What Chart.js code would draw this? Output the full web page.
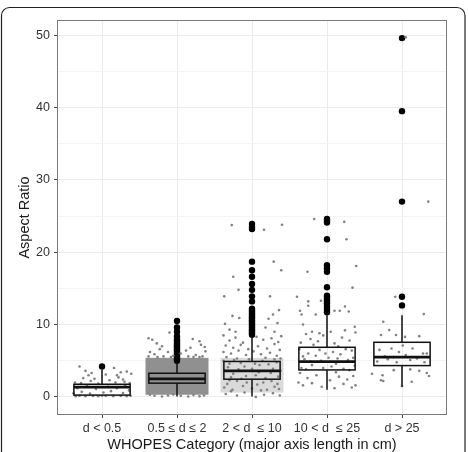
<!DOCTYPE html>
<html>
<head>
<meta charset="utf-8">
<script src="https://cdn.jsdelivr.net/npm/chart.js@4"></script>
<style>
  body { margin: 0; background: #fff; }
</style>
</head>
<body>
<canvas id="aspect-ratio-graphic" width="469" height="452"></canvas>
<script>
var categories = ['d < 0.5', '0.5 \u2264 d \u2264 2', '2 < d  \u2264 10', '10 < d  \u2264 25', 'd > 25'];

// box statistics per category
var whiskerLow = [0.05, 0.05, 0.05, 1.0, 1.4];
var q1 = [0.25, 1.9, 2.45, 3.73, 4.33];
var median = [1.35, 2.5, 3.6, 4.88, 5.5];
var q3 = [1.75, 3.27, 4.9, 6.86, 7.55];
var whiskerHigh = [3.75, 4.9, 8.5, 11.3, 11.3];

// outliers (black dots)
var outliers = [
    [4.2],
    [5.0, 5.2, 5.4, 5.6, 5.8, 6.0, 6.2, 6.4, 6.6, 6.8, 7.0, 7.2, 7.4, 7.6, 7.8, 8.0, 8.4, 9.0, 9.6, 10.5],
    [8.6, 8.8, 9.0, 9.2, 9.4, 9.6, 9.8, 10.0, 10.2, 10.4, 10.6, 10.8, 11.0, 11.2, 11.4, 11.6, 11.8, 12.0, 12.2,
     13.2, 13.9, 14.8, 15.6, 16.6, 17.5, 18.7, 23.2, 23.5, 23.9],
    [11.7, 12.0, 12.3, 12.6, 12.9, 13.2, 13.5, 13.8, 14.0, 15.15, 17.3, 17.8, 18.2, 21.8, 24.1, 24.4, 24.6],
    [12.65, 13.85, 27.0, 39.5, 49.6]
];

// dense part of the jittered cloud, [low, high]
var cloudLow = [null, 0.3, 0.6, null, null];
var cloudHigh = [null, 5.4, 5.4, null, null];

// jittered raw points: [offset from category, value]
var jitter1 = [[-0.35,0.1],[-0.3,0.15],[-0.22,0.1],[-0.12,0.12],[-0.05,0.1],[0.05,0.15],[0.15,0.1],[0.25,0.12],[0.33,0.1],[0.38,0.15],
    [-0.38,0.5],[-0.27,0.7],[-0.16,0.45],[0.02,0.6],[0.12,0.8],[0.28,0.55],[0.36,0.9],
    [-0.33,1.2],[-0.2,1.5],[-0.08,1.1],[0.08,1.4],[0.2,1.2],[0.31,1.6],
    [-0.36,2.0],[-0.28,1.9],[-0.15,2.2],[-0.05,1.85],[0.1,2.3],[0.18,2.0],[0.3,2.1],[0.37,1.9],
    [-0.25,2.6],[-0.1,2.5],[0.22,2.7],[0.28,2.4],
    [-0.3,4.2],[-0.22,3.6],[-0.14,3.3],[-0.18,3.0],[0.16,4.0],[0.25,3.4],[0.33,3.5],[0.39,3.2],[0.2,3.0],[0.05,3.1]];
var jitter2 = [[-0.38,8.1],[-0.33,7.9],[-0.27,7.4],[-0.2,7.0],[-0.23,6.6],[-0.1,8.9],[0.21,8.0],[0.3,7.7],[0.32,7.2],[0.37,6.9],
    [0.18,6.8],[0.12,6.4],[0.38,6.3],[-0.36,6.2],[-0.3,5.9],[-0.12,6.2],[0.05,6.0],[0.25,5.8],[-0.05,5.7],[-0.18,5.6],
    [0.3,5.5],[-0.38,5.6],[0.15,5.6],[-0.26,5.5],[0.22,5.5],[0.34,5.6],[-0.08,5.5],
    [-0.3,0.15],[-0.2,0.05],[-0.12,0.2],[0.05,0.15],[0.15,0.05],[0.22,0.25],[0.3,0.1],[0.36,0.2],[-0.36,0.3],[-0.05,0.35]];
var jitter3 = [[-0.27,23.75],[0.16,23.1],[0.4,23.8],[0.29,18.7],[0.39,17.5],[-0.25,16.6],[-0.18,14.8],[-0.37,13.9],[0.24,13.9],
    [-0.26,11.2],[-0.17,10.9],[0.22,10.8],[0.28,11.4],[0.34,10.2],[0.18,9.6],[-0.3,9.3],[-0.36,10.1],[-0.22,9.0],[0.36,12.0],[0.3,9.0],
    [-0.38,8.5],[-0.3,7.8],[-0.22,8.2],[-0.12,7.5],[0.06,8.3],[0.15,7.9],[0.26,8.1],[0.35,7.6],[0.39,8.4],
    [-0.35,7.1],[-0.25,6.8],[-0.15,7.2],[-0.05,6.6],[0.08,7.0],[0.2,6.7],[0.3,7.3],[0.37,6.5],
    [-0.38,6.2],[-0.28,6.0],[-0.18,6.4],[-0.08,5.8],[0.02,6.3],[0.12,5.9],[0.24,6.1],[0.33,5.7],
    [-0.34,5.5],[-0.2,5.3],[0.18,5.4],[0.3,5.2],[-0.3,4.6],[-0.1,4.2],[0.1,4.4],[0.28,3.9],[-0.25,3.2],[0.05,3.0],[0.35,2.8],
    [-0.33,1.8],[-0.12,1.5],[0.15,2.0],[0.3,1.4],[-0.2,2.2],[0.0,1.2],
    [-0.38,5.0],[-0.32,4.1],[-0.24,5.1],[-0.15,4.7],[-0.04,5.2],[0.04,4.6],[0.14,5.0],[0.22,4.5],[0.33,4.8],[0.38,5.3],
    [-0.36,3.6],[-0.28,2.7],[-0.18,3.8],[-0.08,2.9],[0.0,3.9],[0.09,3.4],[0.18,2.6],[0.25,3.3],[0.38,3.6],[-0.14,2.5],
    [-0.37,1.3],[-0.26,1.0],[-0.07,2.0],[0.07,1.7],[0.2,1.0],[0.26,2.2],[0.36,1.1],[-0.3,2.3],[0.12,0.9],[0.34,1.8],
    [-0.35,0.4],[-0.2,0.2],[-0.1,0.6],[0.05,0.0],[0.16,0.3],[0.28,0.5],[0.37,0.2],[-0.28,0.8]];
var jitter4 = [[-0.17,24.6],[0.23,24.2],[0.26,21.8],[0.39,18.1],[-0.26,17.3],[0.34,15.1],[-0.4,13.85],[-0.25,13.2],[-0.25,12.6],
    [-0.08,13.3],[0.24,12.5],[0.1,11.9],[0.17,11.9],[0.29,11.8],[-0.36,11.9],[-0.34,11.4],[-0.15,11.4],[-0.32,10.0],[0.37,9.7],
    [0.24,9.2],[-0.28,8.7],[-0.2,9.0],[-0.1,8.8],[0.05,9.0],
    [-0.35,7.5],[-0.22,8.0],[-0.12,7.7],[-0.05,8.5],[0.1,7.4],[0.2,8.2],[0.3,7.8],[0.38,8.9],
    [-0.37,6.6],[-0.3,5.2],[-0.25,6.0],[-0.2,4.4],[-0.15,5.7],[-0.1,6.5],[-0.05,4.0],[0.02,5.4],[0.08,6.2],[0.12,4.6],
    [0.18,5.9],[0.22,3.9],[0.28,5.1],[0.33,6.4],[0.37,4.3],[-0.34,4.0],[-0.28,3.8],[0.3,3.7],[0.15,7.0],[-0.18,7.2],
    [-0.32,5.6],[-0.08,5.0],[0.06,4.2],[0.25,6.6],[0.35,5.4],[-0.22,4.9],[0.14,5.3],[-0.02,6.0],
    [-0.38,2.0],[-0.32,1.6],[-0.26,2.6],[-0.2,1.9],[-0.14,3.0],[-0.07,1.4],[0.04,2.3],[0.1,1.2],[0.16,2.8],[0.22,1.8],
    [0.27,2.4],[0.33,1.3],[0.38,1.6],[0.35,2.9],[-0.36,3.3],[0.12,3.4]];
var jitter5 = [[0.05,49.7],[0.35,27.0],[-0.09,13.85],[0.29,11.45],[-0.25,10.4],[-0.17,9.25],
    [-0.28,8.55],[-0.08,8.55],[0.04,8.3],[0.23,8.4],
    [-0.3,6.5],[-0.14,6.7],[0.01,7.1],[0.14,6.7],[0.28,6.0],[0.33,6.0],[-0.23,5.6],[-0.11,5.5],[0.05,5.8],[0.2,5.3],
    [-0.33,4.9],[-0.07,4.8],[0.11,5.1],[0.3,4.8],[-0.04,6.2],[-0.19,5.2],
    [-0.11,3.7],[0.11,3.8],[0.23,3.6],[-0.26,3.0],[0.36,2.9],[-0.28,2.3],[-0.25,2.2],[0.13,2.1],[0.0,1.5],[0.33,3.3],[-0.4,3.2]];
var jitter = [jitter1, jitter2, jitter3, jitter4, jitter5];

var yTicks = [0, 10, 20, 30, 40, 50];
var yMinor = [5, 15, 25, 35, 45];

var jitterPoints = [];
jitter.forEach(function (list, c) {
    list.forEach(function (p) {
        jitterPoints.push({ x: c + 1 + p[0], y: p[1] });
    });
});
var outlierPoints = [];
outliers.forEach(function (list, c) {
    list.forEach(function (v) {
        outlierPoints.push({ x: c + 1, y: v });
    });
});

var boxPlugin = {
    id: 'boxes',
    beforeDraw: function (chart) {
        var ctx = chart.ctx;
        ctx.save();
        ctx.strokeStyle = '#222';
        ctx.lineWidth = 1.2;
        ctx.beginPath();
        ctx.roundRect(1.5, 7.5, 463.5, 470, 8);
        ctx.stroke();
        ctx.restore();
    },
    beforeDatasetsDraw: function (chart) {
        var ctx = chart.ctx, xs = chart.scales.x, ys = chart.scales.y;
        ctx.save();
        for (var i = 0; i < categories.length; i++) {
            if (cloudLow[i] === null) continue;
            var l = xs.getPixelForValue(i + 1 - 0.42), r = xs.getPixelForValue(i + 1 + 0.42);
            var t = ys.getPixelForValue(cloudHigh[i]), b = ys.getPixelForValue(cloudLow[i]);
            ctx.fillStyle = i === 1 ? '#909090' : 'rgba(150,150,150,0.35)';
            ctx.fillRect(l, t, r - l, b - t);
        }
        ctx.restore();
    },
    afterDatasetsDraw: function (chart) {
        var ctx = chart.ctx, xs = chart.scales.x, ys = chart.scales.y;
        ctx.save();
        ctx.strokeStyle = '#111';
        for (var i = 0; i < categories.length; i++) {
            var cx = xs.getPixelForValue(i + 1);
            var l = xs.getPixelForValue(i + 1 - 0.375), r = xs.getPixelForValue(i + 1 + 0.375);
            var yq1 = ys.getPixelForValue(q1[i]), yq3 = ys.getPixelForValue(q3[i]);
            ctx.lineWidth = 1.5;
            ctx.beginPath();
            ctx.moveTo(cx, yq3); ctx.lineTo(cx, ys.getPixelForValue(whiskerHigh[i]));
            ctx.moveTo(cx, yq1); ctx.lineTo(cx, ys.getPixelForValue(whiskerLow[i]));
            ctx.stroke();
            ctx.strokeRect(l, yq3, r - l, yq1 - yq3);
            ctx.lineWidth = 2.6;
            ctx.beginPath();
            var ym = ys.getPixelForValue(median[i]);
            ctx.moveTo(l, ym); ctx.lineTo(r, ym);
            ctx.stroke();
        }
        ctx.restore();
    },
    afterDraw: function (chart) {
        var a = chart.chartArea, ctx = chart.ctx;
        ctx.save();
        ctx.strokeStyle = '#7a7a7a';
        ctx.lineWidth = 1;
        ctx.strokeRect(a.left + 0.5, a.top + 0.5, a.right - a.left - 1, a.bottom - a.top - 1);
        ctx.restore();
    }
};

var ctx = document.getElementById('aspect-ratio-graphic').getContext('2d');

var myBoxChart = new Chart(ctx, {
    type: 'scatter',
    data: {
        datasets: [{
            label: 'points',
            data: jitterPoints,
            backgroundColor: '#828282',
            borderWidth: 0,
            pointRadius: 1.3
        }, {
            label: 'outliers',
            data: outlierPoints,
            backgroundColor: '#000',
            borderWidth: 0,
            pointRadius: 3.2
        }]
    },
    options: {
        responsive: false,
        animation: false,
        devicePixelRatio: 1,
        layout: { padding: { left: 0, top: 20, right: 22, bottom: 0 } },
        plugins: { legend: { display: false }, tooltip: { enabled: false } },
        scales: {
            x: {
                type: 'linear',
                min: 0.4,
                max: 5.6,
                afterBuildTicks: function (scale) {
                    scale.ticks = categories.map(function (c, i) { return { value: i + 1 }; });
                },
                afterFit: function (scale) { scale.height = 37; },
                grid: { color: '#ebebeb', tickColor: '#444', tickLength: 3, lineWidth: 1 },
                border: { display: false },
                ticks: {
                    autoSkip: false,
                    maxRotation: 0,
                    padding: 3,
                    color: '#333',
                    font: { family: 'Liberation Sans', size: 12.5 },
                    callback: function (v) { return categories[Math.round(v) - 1]; }
                },
                title: {
                    display: true,
                    text: 'WHOPES Category (major axis length in cm)',
                    color: '#1a1a1a',
                    font: { family: 'Liberation Sans', size: 14.5, lineHeight: 1 },
                    padding: { top: 0, bottom: 0 }
                }
            },
            y: {
                min: -2.5,
                max: 52.1,
                afterBuildTicks: function (scale) {
                    var t = [];
                    for (var v = 0; v <= 50; v += 5) t.push({ value: v });
                    scale.ticks = t;
                },
                afterFit: function (scale) { scale.width = 57; },
                grid: {
                    color: function (c) { return yMinor.indexOf(c.tick.value) >= 0 ? '#f4f4f4' : '#ebebeb'; },
                    tickColor: function (c) { return yMinor.indexOf(c.tick.value) >= 0 ? 'rgba(0,0,0,0)' : '#444'; },
                    tickLength: 3
                },
                border: { display: false },
                ticks: {
                    padding: 4,
                    color: '#333',
                    font: { family: 'Liberation Sans', size: 12.5 },
                    callback: function (v) { return yTicks.indexOf(v) >= 0 ? String(v) : ''; }
                },
                title: {
                    display: true,
                    text: 'Aspect Ratio',
                    color: '#1a1a1a',
                    font: { family: 'Liberation Sans', size: 14.5, lineHeight: 1 },
                    padding: { top: 18, bottom: 0 }
                }
            }
        }
    },
    plugins: [boxPlugin]
});
</script>
</body>
</html>
